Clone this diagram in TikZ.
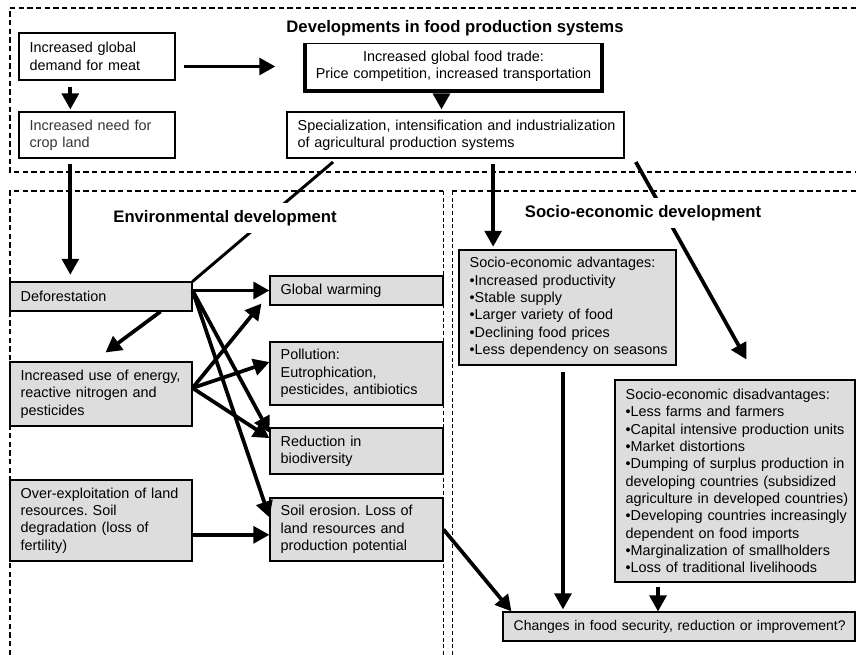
\documentclass[tikz,border=0pt]{standalone}
\usepackage{fontspec}
\setmainfont{Liberation Sans}
\usetikzlibrary{arrows.meta}
\definecolor{boxgray}{HTML}{DDDDDD}
\frenchspacing
\newcommand\pxbox[7]{%
  \pgfmathsetmacro\pxbw{(#5-#3)*0.75}%
  \pgfmathsetmacro\pxbh{(#6-#4)*0.75}%
  \pgfmathsetmacro\pxtw{\pxbw-16}%
  \node[#1, minimum width=\pxbw pt, minimum height=\pxbh pt, text width=\pxtw pt] (#2) at ({(#3+#5)/2},{(#4+#6)/2}) {#7};}
\begin{document}
\begin{tikzpicture}[x=0.75pt, y=-0.75pt,
  every node/.style={font=\fontsize{10.8}{13}\selectfont},
  wbox/.style={draw, line width=0.8pt, fill=white, inner xsep=8pt, inner ysep=0pt, align=left},
  gbox/.style={wbox, fill=boxgray},
  tbox/.style={wbox, line width=2.5pt, align=center},
  arr/.style={line width=2.8pt, -{Triangle[length=12pt,width=12.5pt]}},
  conn/.style={line width=2.2pt},
  dframe/.style={dash pattern=on 4pt off 2.5pt, line width=1.1pt},
  thinframe/.style={dash pattern=on 3pt off 2pt, line width=0.5pt},
  ttl/.style={font=\fontsize{12.5}{15}\selectfont\bfseries, fill=white, inner xsep=2pt, inner ysep=5.5pt}]
\useasboundingbox (0,0) rectangle (856,655);

% frames
\draw[dframe] (856,8) -- (10,8) -- (10,172) -- (856,172);
\draw[dframe] (10,655) -- (10,191) -- (443,191);
\draw[thinframe] (443,191) -- (443,655);
\draw[dframe] (452,191) -- (856,191);
\draw[thinframe] (452,191) -- (452,655);

% boxes
\pxbox{wbox}{meat}{19}{33}{175}{80}{Increased global\\demand for meat}
\pxbox{wbox, text=black!80}{crop}{19}{112}{175}{158}{Increased need for\\crop land}
\pxbox{tbox}{trade}{305}{42}{602}{91}{Increased global food trade:\\\mbox{Price competition, increased transportation}}
\pxbox{wbox}{spec}{287}{112}{624}{158}{\mbox{Specialization, intensification and industrialization}\\of agricultural production systems}

\pxbox{gbox}{defor}{10}{282}{192}{311}{Deforestation}
\pxbox{gbox}{energy}{10}{362}{192}{426}{\mbox{Increased use of energy,}\\reactive nitrogen and\\pesticides}
\pxbox{gbox}{overex}{10}{480}{192}{561}{\mbox{Over-exploitation of land}\\resources. Soil\\degradation (loss of\\fertility)}
\pxbox{gbox}{gw}{270}{276}{443}{305}{Global warming}
\pxbox{gbox}{poll}{270}{342}{443}{405}{Pollution:\\Eutrophication,\\\mbox{pesticides, antibiotics}}
\pxbox{gbox}{biod}{270}{428}{443}{474}{Reduction in\\biodiversity}
\pxbox{gbox}{soil}{270}{498}{443}{561}{Soil erosion. Loss of\\land resources and\\\mbox{production potential}}
\pxbox{gbox}{adv}{459}{250}{676}{365}{Socio-economic advantages:\\\textbullet Increased productivity\\\textbullet Stable supply\\\textbullet Larger variety of food\\\textbullet Declining food prices\\\mbox{\textbullet Less dependency on seasons}}
\pxbox{gbox}{disadv}{615}{380}{855}{582}{Socio-economic disadvantages:\\\textbullet Less farms and farmers\\\mbox{\textbullet Capital intensive production units}\\\textbullet Market distortions\\\mbox{\textbullet Dumping of surplus production in}\\\mbox{developing countries (subsidized}\\\mbox{agriculture in developed countries)}\\\mbox{\textbullet Developing countries increasingly}\\dependent on food imports\\\mbox{\textbullet Marginalization of smallholders}\\\textbullet Loss of traditional livelihoods}
\pxbox{gbox, inner xsep=6.5pt, font=\fontsize{10.5}{13}\selectfont}{changes}{503}{612}{855}{641}{\mbox{Changes in food security, reduction or improvement?}}

% connectors
\draw[arr, shorten <=6pt, shorten >=21pt] (meat.east |- trade.west) -- (trade.west);
\draw[arr, shorten <=4.5pt, shorten >=1.5pt] ([xshift=-20pt]meat.south) -- ([xshift=-20pt]crop.north);
\draw[arr, shorten <=1.5pt, shorten >=1.5pt] ([xshift=-9pt]trade.south) -- ([xshift=-9pt]trade.south |- spec.north);
\draw[arr, shorten <=3.75pt, shorten >=5pt] ([xshift=-20pt]crop.south) -- ([xshift=-20pt]crop.south |- defor.north);
\draw[conn, shorten <=4pt] ([xshift=38pt]spec.south west) -- (defor.north east);
\coordinate (advtop) at ([xshift=26pt]adv.north west);
\draw[arr, shorten <=4pt, shorten >=2pt] (advtop |- spec.south) -- (advtop);
\draw[arr, shorten <=3pt] ([xshift=7pt]spec.south east) -- ([xshift=99pt,yshift=15pt]disadv.north west);

\draw[arr] ([xshift=-24pt]defor.south east) -- ([xshift=72pt,yshift=6.75pt]energy.north west);
\coordinate (dor) at (defor.east |- gw.west);
\draw[arr] (dor) -- (gw.west);
\draw[arr] (dor) -- ([yshift=-4pt]biod.north west);
\draw[arr] (dor) -- ([yshift=-15pt]soil.north west);
\coordinate (eo) at ([yshift=4.5pt]energy.east);
\draw[arr] (eo) -- ([xshift=-6pt,yshift=1.5pt]gw.south west);
\draw[arr] (eo) -- ([yshift=8.6pt]poll.west);
\draw[arr] (eo) -- ([yshift=-8pt]biod.north west);
\coordinate (sw) at ([yshift=-4pt]soil.west);
\draw[arr] (overex.east |- sw) -- (sw);
\draw[arr] (soil.east) -- ([xshift=6.75pt]changes.north west);
\coordinate (ab) at ([xshift=-3.4pt]adv.south);
\draw[arr, shorten <=5pt, shorten >=1.5pt] (ab) -- (ab |- changes.north);
\coordinate (db) at ([xshift=-57.75pt]disadv.south);
\draw[arr, shorten <=3.5pt] (db) -- (db |- changes.north);

% titles
\node[ttl] (t1) at (455,28) {Developments in food production systems};
\node[ttl] (t2) at (225,218) {Environmental development};
\node[ttl] (t3) at (643,213) {Socio-economic development};
\end{tikzpicture}
\end{document}
